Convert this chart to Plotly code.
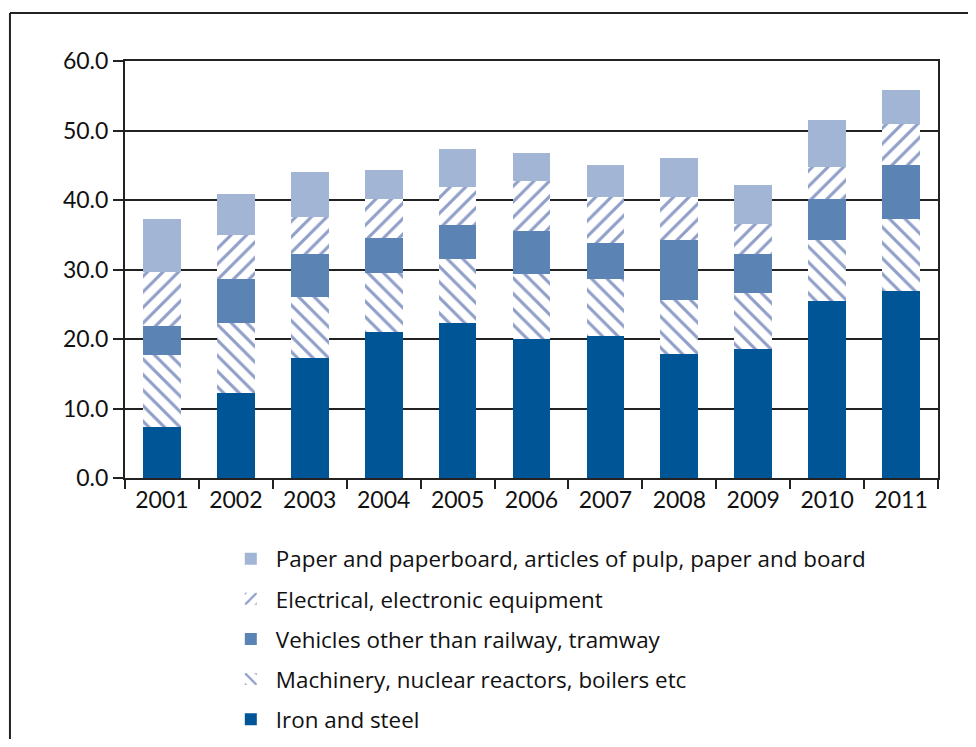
import plotly.graph_objects as go

years = ['2001', '2002', '2003', '2004', '2005', '2006', '2007', '2008', '2009', '2010', '2011']

iron_steel = [7.3, 12.3, 17.2, 21.0, 22.3, 20.0, 20.4, 17.9, 18.5, 25.5, 26.9]
machinery = [10.4, 10.0, 8.9, 8.5, 9.2, 9.3, 8.2, 7.7, 8.1, 8.8, 10.4]
vehicles = [4.1, 6.3, 6.1, 5.1, 4.9, 6.2, 5.2, 8.6, 5.7, 5.9, 7.8]
electrical = [7.8, 6.4, 5.4, 5.5, 5.4, 7.2, 6.6, 6.2, 4.3, 4.5, 5.8]
paper = [7.6, 5.8, 6.5, 4.2, 5.6, 4.0, 4.7, 5.6, 5.5, 6.8, 5.0]

y_ticks = [0, 10, 20, 30, 40, 50, 60]

HATCH = '#1f3f92'

fig = go.Figure()

# solid series
def solid(name, vals, color, rank):
    return go.Bar(x=years, y=vals, name=name, legendgroup=name, legendrank=rank,
                  marker=dict(color=color, line=dict(width=0)))

# hatched series, white background so gridlines are hidden
def hatched(name, vals, shape, rank):
    return go.Bar(x=years, y=vals, name=name, legendgroup=name, legendrank=rank,
                  marker=dict(color='white', line=dict(width=0),
                              pattern=dict(shape=shape, fgcolor=HATCH, bgcolor='white',
                                           fillmode='overlay', size=11, solidity=0.28)))

fig.add_trace(solid('Iron and steel', iron_steel, '#005596', 5))
fig.add_trace(hatched('Machinery, nuclear reactors, boilers etc', machinery, '\\', 4))
fig.add_trace(solid('Vehicles other than railway, tramway', vehicles, '#5b84b5', 3))
fig.add_trace(hatched('Electrical, electronic equipment', electrical, '/', 2))
fig.add_trace(solid('Paper and paperboard, articles of pulp, paper and board', paper, '#a3b5d5', 1))

fig.update_layout(
    barmode='stack',
    bargap=0.49,
    width=968, height=731,
    paper_bgcolor='white', plot_bgcolor='white',
    margin=dict(l=117, r=38, t=53, b=261, autoexpand=False),
    font=dict(family='Lato', color='#111', size=22),
    legend=dict(
        traceorder='grouped',
        tracegroupgap=8,
        x=0.124, xanchor='left',
        y=-0.143, yanchor='top',
        font=dict(family='Open Sans', size=22.4, color='#111'),
        itemwidth=40,
        bgcolor='rgba(0,0,0,0)',
    ),
    showlegend=True,
)

fig.update_yaxes(
    range=[0, 60], tickvals=y_ticks, tickformat='.1f',
    showgrid=True, gridcolor='#222', gridwidth=1.5,
    showline=True, linecolor='#222', linewidth=2, mirror=True,
    ticks='outside', ticklen=10, tickwidth=2, tickcolor='#222',
    tickfont=dict(size=23), zeroline=False,
)
fig.update_xaxes(
    type='category',
    showline=True, linecolor='#222', linewidth=2, mirror=True,
    ticks='outside', tickson='boundaries', ticklen=9, tickwidth=2, tickcolor='#222',
    tickfont=dict(size=23),
)

# outer frame (only top and left edges fall inside the crop)
fig.add_shape(type='line', xref='paper', yref='paper', x0=-0.1415, x1=1.1, y0=1.115, y1=1.115,
              line=dict(color='#222', width=2))
fig.add_shape(type='line', xref='paper', yref='paper', x0=-0.1415, x1=-0.1415, y0=1.115, y1=-0.7,
              line=dict(color='#222', width=2))

fig.write_html("out.html")
